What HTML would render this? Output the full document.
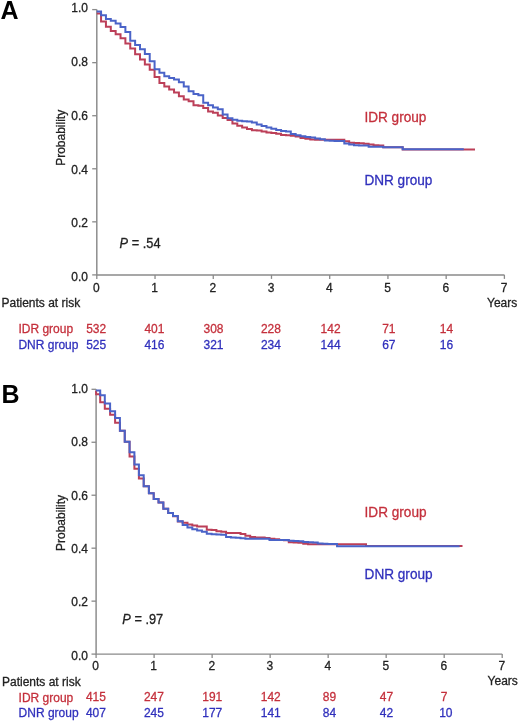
<!DOCTYPE html>
<html><head><meta charset="utf-8"><title>Kaplan-Meier curves</title>
<style>
html,body{margin:0;padding:0;background:#fff;}
body{width:520px;height:722px;overflow:hidden;}
svg{display:block;filter:blur(0.35px);}
text{font-family:"Liberation Sans",sans-serif;fill:#222222;stroke-width:0.28px;}
text.tk,text.lb,text.pv{stroke:#222;}
.tk{font-size:12px;}
.lb{font-size:12px;}
.gl{font-size:13.6px;}
.pv{font-size:13px;}
.pl{font-size:25px;font-weight:bold;fill:#000;}
</style></head><body>
<svg width="520" height="722" viewBox="0 0 520 722">
<text transform="translate(0.50 18.60) scale(1.000 1.000)" class="pl">A</text>
<path d="M96.80 9.60 V274.90 H504.40" fill="none" stroke="#8a8a8a" stroke-width="1.45"/>
<path d="M92.20 9.60 H96.80" stroke="#8a8a8a" stroke-width="1.3"/>
<text transform="translate(87.90 12.20) scale(1.000 1.040)" class="tk" text-anchor="end">1.0</text>
<path d="M92.20 62.66 H96.80" stroke="#8a8a8a" stroke-width="1.3"/>
<text transform="translate(87.90 66.00) scale(1.000 1.040)" class="tk" text-anchor="end">0.8</text>
<path d="M92.20 115.72 H96.80" stroke="#8a8a8a" stroke-width="1.3"/>
<text transform="translate(87.90 119.80) scale(1.000 1.040)" class="tk" text-anchor="end">0.6</text>
<path d="M92.20 168.78 H96.80" stroke="#8a8a8a" stroke-width="1.3"/>
<text transform="translate(87.90 173.60) scale(1.000 1.040)" class="tk" text-anchor="end">0.4</text>
<path d="M92.20 221.84 H96.80" stroke="#8a8a8a" stroke-width="1.3"/>
<text transform="translate(87.90 227.40) scale(1.000 1.040)" class="tk" text-anchor="end">0.2</text>
<path d="M92.20 274.90 H96.80" stroke="#8a8a8a" stroke-width="1.3"/>
<text transform="translate(87.90 281.20) scale(1.000 1.040)" class="tk" text-anchor="end">0.0</text>
<path d="M96.80 274.90 V278.90" stroke="#8a8a8a" stroke-width="1.3"/>
<path d="M155.03 274.90 V278.90" stroke="#8a8a8a" stroke-width="1.3"/>
<path d="M213.26 274.90 V278.90" stroke="#8a8a8a" stroke-width="1.3"/>
<path d="M271.49 274.90 V278.90" stroke="#8a8a8a" stroke-width="1.3"/>
<path d="M329.71 274.90 V278.90" stroke="#8a8a8a" stroke-width="1.3"/>
<path d="M387.94 274.90 V278.90" stroke="#8a8a8a" stroke-width="1.3"/>
<path d="M446.17 274.90 V278.90" stroke="#8a8a8a" stroke-width="1.3"/>
<path d="M504.40 274.90 V278.90" stroke="#8a8a8a" stroke-width="1.3"/>
<text transform="translate(96.40 291.50) scale(1.000 1.040)" class="tk" text-anchor="middle">0</text>
<text transform="translate(154.63 291.50) scale(1.000 1.040)" class="tk" text-anchor="middle">1</text>
<text transform="translate(212.86 291.50) scale(1.000 1.040)" class="tk" text-anchor="middle">2</text>
<text transform="translate(271.09 291.50) scale(1.000 1.040)" class="tk" text-anchor="middle">3</text>
<text transform="translate(329.31 291.50) scale(1.000 1.040)" class="tk" text-anchor="middle">4</text>
<text transform="translate(387.54 291.50) scale(1.000 1.040)" class="tk" text-anchor="middle">5</text>
<text transform="translate(445.77 291.50) scale(1.000 1.040)" class="tk" text-anchor="middle">6</text>
<text transform="translate(504.00 291.50) scale(1.000 1.040)" class="tk" text-anchor="middle">7</text>
<text transform="translate(487.00 306.70) scale(1.000 1.040)" class="tk">Years</text>
<text transform="translate(65.0 165.8) rotate(-90) scale(1 1.040)" class="lb">Probability</text>
<path d="M96.80 13.60 H101.06 V21.50 H105.93 V26.70 H110.80 V30.90 H115.66 V34.20 H120.53 V38.30 H125.39 V43.50 H130.25 V48.50 H135.12 V54.20 H139.99 V59.60 H144.85 V64.40 H149.72 V69.70 H154.58 V77.00 H159.44 V83.00 H164.31 V86.50 H169.18 V89.50 H174.04 V92.50 H178.91 V96.20 H183.77 V99.50 H188.63 V101.20 H193.50 V105.20 H198.37 V105.70 H203.23 V108.10 H208.10 V111.50 H212.96 V112.70 H217.82 V115.50 H222.69 V117.90 H227.56 V120.10 H232.42 V123.50 H237.29 V125.80 H242.15 V127.60 H247.01 V129.00 H251.88 V130.30 H256.75 V130.60 H261.61 V131.50 H266.48 V132.40 H271.34 V133.10 H276.20 V133.70 H281.07 V134.90 H285.94 V135.30 H290.80 V135.80 H295.67 V136.60 H300.53 V138.00 H305.40 V138.70 H310.26 V139.60 H315.12 V139.80 H344.31 V141.20 H349.18 V142.70 H354.05 V143.00 H358.91 V143.30 H363.77 V143.80 H368.64 V144.60 H373.50 V145.20 H378.37 V145.60 H383.24 V147.20 H402.69 V149.50 H475.00" fill="none" stroke="#bc3f58" stroke-width="2.0"/>
<path d="M96.80 11.50 H101.06 V15.20 H105.93 V19.10 H110.80 V20.70 H115.66 V23.50 H120.53 V27.00 H125.39 V32.00 H130.25 V40.80 H135.12 V45.00 H139.99 V49.20 H144.85 V54.00 H149.72 V61.20 H154.58 V69.20 H159.44 V72.70 H164.31 V76.20 H169.18 V78.00 H174.04 V79.50 H178.91 V82.30 H183.77 V86.50 H188.63 V91.30 H193.50 V94.00 H198.37 V95.30 H203.23 V102.80 H208.10 V105.20 H212.96 V107.40 H217.82 V109.20 H222.69 V114.40 H227.56 V118.30 H232.42 V119.80 H237.29 V120.80 H242.15 V121.30 H247.01 V121.60 H251.88 V122.60 H256.75 V124.50 H261.61 V126.00 H266.48 V127.50 H271.34 V128.80 H276.20 V130.00 H281.07 V131.00 H285.94 V131.60 H290.80 V133.90 H295.67 V135.30 H300.53 V136.30 H305.40 V136.90 H310.26 V137.50 H315.12 V138.50 H319.99 V139.30 H324.86 V140.50 H329.72 V140.80 H334.59 V141.00 H344.31 V143.60 H349.18 V144.40 H354.05 V145.20 H358.91 V145.40 H363.77 V145.60 H368.64 V146.70 H383.24 V147.20 H402.69 V149.30 H463.80" fill="none" stroke="#4a63c8" stroke-width="2.0"/>
<text transform="translate(364.40 122.40) scale(1.000 1.040)" class="gl" style="fill:#c4303c;stroke:#c4303c">IDR group</text>
<text transform="translate(364.40 184.90) scale(1.000 1.040)" class="gl" style="fill:#3030bc;stroke:#3030bc">DNR group</text>
<text transform="translate(119.60 247.60) scale(0.985 1.065)" class="pv"><tspan font-style="italic">P</tspan> = .54</text>
<text transform="translate(1.50 307.20) scale(1.000 1.040)" class="lb">Patients at risk</text>
<text transform="translate(18.40 333.40) scale(1.000 1.040)" class="lb" style="fill:#c4303c;stroke:#c4303c">IDR group</text>
<text transform="translate(18.40 348.70) scale(1.000 1.040)" class="lb" style="fill:#3030bc;stroke:#3030bc">DNR group</text>
<text transform="translate(96.20 333.40) scale(1.000 1.040)" class="lb" text-anchor="middle" style="fill:#c4303c;stroke:#c4303c">532</text>
<text transform="translate(96.20 348.70) scale(1.000 1.040)" class="lb" text-anchor="middle" style="fill:#3030bc;stroke:#3030bc">525</text>
<text transform="translate(154.43 333.40) scale(1.000 1.040)" class="lb" text-anchor="middle" style="fill:#c4303c;stroke:#c4303c">401</text>
<text transform="translate(154.43 348.70) scale(1.000 1.040)" class="lb" text-anchor="middle" style="fill:#3030bc;stroke:#3030bc">416</text>
<text transform="translate(213.46 333.40) scale(1.000 1.040)" class="lb" text-anchor="middle" style="fill:#c4303c;stroke:#c4303c">308</text>
<text transform="translate(213.46 348.70) scale(1.000 1.040)" class="lb" text-anchor="middle" style="fill:#3030bc;stroke:#3030bc">321</text>
<text transform="translate(270.89 333.40) scale(1.000 1.040)" class="lb" text-anchor="middle" style="fill:#c4303c;stroke:#c4303c">228</text>
<text transform="translate(270.89 348.70) scale(1.000 1.040)" class="lb" text-anchor="middle" style="fill:#3030bc;stroke:#3030bc">234</text>
<text transform="translate(330.61 333.40) scale(1.000 1.040)" class="lb" text-anchor="middle" style="fill:#c4303c;stroke:#c4303c">142</text>
<text transform="translate(330.61 348.70) scale(1.000 1.040)" class="lb" text-anchor="middle" style="fill:#3030bc;stroke:#3030bc">144</text>
<text transform="translate(388.84 333.40) scale(1.000 1.040)" class="lb" text-anchor="middle" style="fill:#c4303c;stroke:#c4303c">71</text>
<text transform="translate(388.84 348.70) scale(1.000 1.040)" class="lb" text-anchor="middle" style="fill:#3030bc;stroke:#3030bc">67</text>
<text transform="translate(446.37 333.40) scale(1.000 1.040)" class="lb" text-anchor="middle" style="fill:#c4303c;stroke:#c4303c">14</text>
<text transform="translate(446.37 348.70) scale(1.000 1.040)" class="lb" text-anchor="middle" style="fill:#3030bc;stroke:#3030bc">16</text>
<text transform="translate(1.60 403.00) scale(1.000 1.000)" class="pl">B</text>
<path d="M96.10 389.30 V654.10 H502.20" fill="none" stroke="#8a8a8a" stroke-width="1.45"/>
<path d="M91.50 389.30 H96.10" stroke="#8a8a8a" stroke-width="1.3"/>
<text transform="translate(87.90 392.90) scale(1.000 1.040)" class="tk" text-anchor="end">1.0</text>
<path d="M91.50 442.26 H96.10" stroke="#8a8a8a" stroke-width="1.3"/>
<text transform="translate(87.90 446.26) scale(1.000 1.040)" class="tk" text-anchor="end">0.8</text>
<path d="M91.50 495.22 H96.10" stroke="#8a8a8a" stroke-width="1.3"/>
<text transform="translate(87.90 499.62) scale(1.000 1.040)" class="tk" text-anchor="end">0.6</text>
<path d="M91.50 548.18 H96.10" stroke="#8a8a8a" stroke-width="1.3"/>
<text transform="translate(87.90 552.98) scale(1.000 1.040)" class="tk" text-anchor="end">0.4</text>
<path d="M91.50 601.14 H96.10" stroke="#8a8a8a" stroke-width="1.3"/>
<text transform="translate(87.90 606.34) scale(1.000 1.040)" class="tk" text-anchor="end">0.2</text>
<path d="M91.50 654.10 H96.10" stroke="#8a8a8a" stroke-width="1.3"/>
<text transform="translate(87.90 659.70) scale(1.000 1.040)" class="tk" text-anchor="end">0.0</text>
<path d="M96.10 654.10 V658.10" stroke="#8a8a8a" stroke-width="1.3"/>
<path d="M154.11 654.10 V658.10" stroke="#8a8a8a" stroke-width="1.3"/>
<path d="M212.13 654.10 V658.10" stroke="#8a8a8a" stroke-width="1.3"/>
<path d="M270.14 654.10 V658.10" stroke="#8a8a8a" stroke-width="1.3"/>
<path d="M328.16 654.10 V658.10" stroke="#8a8a8a" stroke-width="1.3"/>
<path d="M386.17 654.10 V658.10" stroke="#8a8a8a" stroke-width="1.3"/>
<path d="M444.19 654.10 V658.10" stroke="#8a8a8a" stroke-width="1.3"/>
<path d="M502.20 654.10 V658.10" stroke="#8a8a8a" stroke-width="1.3"/>
<text transform="translate(95.70 669.60) scale(1.000 1.040)" class="tk" text-anchor="middle">0</text>
<text transform="translate(153.71 669.60) scale(1.000 1.040)" class="tk" text-anchor="middle">1</text>
<text transform="translate(211.73 669.60) scale(1.000 1.040)" class="tk" text-anchor="middle">2</text>
<text transform="translate(269.74 669.60) scale(1.000 1.040)" class="tk" text-anchor="middle">3</text>
<text transform="translate(327.76 669.60) scale(1.000 1.040)" class="tk" text-anchor="middle">4</text>
<text transform="translate(385.77 669.60) scale(1.000 1.040)" class="tk" text-anchor="middle">5</text>
<text transform="translate(443.79 669.60) scale(1.000 1.040)" class="tk" text-anchor="middle">6</text>
<text transform="translate(501.80 669.60) scale(1.000 1.040)" class="tk" text-anchor="middle">7</text>
<text transform="translate(487.60 685.10) scale(1.000 1.040)" class="tk">Years</text>
<text transform="translate(65.2 551.0) rotate(-90) scale(1 1.040)" class="lb">Probability</text>
<path d="M96.10 390.8 V394.20 H100.20 V402.30 H104.80 V408.80 H110.10 V414.80 H115.10 V422.70 H119.92 V430.80 H124.75 V441.70 H129.57 V456.50 H134.40 V468.80 H138.90 V478.60 H143.70 V486.30 H148.88 V493.30 H153.70 V499.00 H158.53 V502.50 H163.35 V508.70 H168.18 V512.90 H173.00 V516.30 H177.82 V521.60 H182.65 V522.80 H187.47 V524.50 H192.30 V525.50 H197.12 V526.40 H206.78 V529.80 H211.60 V530.00 H216.43 V531.20 H221.25 V531.70 H226.07 V532.90 H240.55 V534.00 H245.38 V535.80 H250.20 V536.90 H255.02 V537.50 H264.68 V538.00 H269.50 V538.70 H274.32 V539.20 H279.15 V539.90 H283.98 V540.30 H288.80 V542.20 H293.62 V542.50 H298.45 V542.70 H303.27 V543.80 H308.10 V544.20 H366.00 V546.10 H462.50" fill="none" stroke="#bc3f58" stroke-width="2.0"/>
<path d="M96.10 390.40 H100.20 V395.20 H104.80 V403.50 H110.10 V411.20 H115.10 V417.90 H119.92 V430.80 H124.75 V441.70 H129.57 V452.30 H134.40 V464.60 H138.90 V475.20 H143.70 V486.30 H148.88 V493.30 H153.70 V499.00 H158.53 V502.50 H163.35 V508.70 H168.18 V512.90 H173.00 V516.10 H177.82 V521.20 H182.65 V525.00 H187.47 V527.60 H192.30 V529.30 H197.12 V530.50 H201.95 V531.80 H206.78 V533.70 H211.60 V534.20 H216.43 V534.60 H221.25 V534.80 H226.07 V536.90 H230.90 V537.40 H235.73 V537.80 H240.55 V538.20 H245.38 V538.70 H269.50 V539.90 H288.80 V540.80 H293.62 V541.00 H298.45 V541.20 H303.27 V541.90 H308.10 V542.20 H312.93 V542.40 H317.75 V543.50 H322.57 V543.80 H327.40 V543.90 H332.23 V544.00 H337.05 V546.30 H459.60" fill="none" stroke="#4a63c8" stroke-width="2.0"/>
<text transform="translate(364.60 517.00) scale(1.000 1.040)" class="gl" style="fill:#c4303c;stroke:#c4303c">IDR group</text>
<text transform="translate(364.60 578.60) scale(1.000 1.040)" class="gl" style="fill:#3030bc;stroke:#3030bc">DNR group</text>
<text transform="translate(122.30 624.00) scale(0.985 1.065)" class="pv"><tspan font-style="italic">P</tspan> = .97</text>
<text transform="translate(2.00 686.10) scale(1.000 1.040)" class="lb">Patients at risk</text>
<text transform="translate(18.60 701.80) scale(1.000 1.040)" class="lb" style="fill:#c4303c;stroke:#c4303c">IDR group</text>
<text transform="translate(18.60 716.80) scale(1.000 1.040)" class="lb" style="fill:#3030bc;stroke:#3030bc">DNR group</text>
<text transform="translate(95.90 701.00) scale(1.000 1.040)" class="lb" text-anchor="middle" style="fill:#c4303c;stroke:#c4303c">415</text>
<text transform="translate(95.90 716.80) scale(1.000 1.040)" class="lb" text-anchor="middle" style="fill:#3030bc;stroke:#3030bc">407</text>
<text transform="translate(153.91 701.00) scale(1.000 1.040)" class="lb" text-anchor="middle" style="fill:#c4303c;stroke:#c4303c">247</text>
<text transform="translate(153.91 716.80) scale(1.000 1.040)" class="lb" text-anchor="middle" style="fill:#3030bc;stroke:#3030bc">245</text>
<text transform="translate(212.23 701.00) scale(1.000 1.040)" class="lb" text-anchor="middle" style="fill:#c4303c;stroke:#c4303c">191</text>
<text transform="translate(212.23 716.80) scale(1.000 1.040)" class="lb" text-anchor="middle" style="fill:#3030bc;stroke:#3030bc">177</text>
<text transform="translate(270.74 701.00) scale(1.000 1.040)" class="lb" text-anchor="middle" style="fill:#c4303c;stroke:#c4303c">142</text>
<text transform="translate(270.74 716.80) scale(1.000 1.040)" class="lb" text-anchor="middle" style="fill:#3030bc;stroke:#3030bc">141</text>
<text transform="translate(329.46 701.00) scale(1.000 1.040)" class="lb" text-anchor="middle" style="fill:#c4303c;stroke:#c4303c">89</text>
<text transform="translate(329.46 716.80) scale(1.000 1.040)" class="lb" text-anchor="middle" style="fill:#3030bc;stroke:#3030bc">84</text>
<text transform="translate(386.47 701.00) scale(1.000 1.040)" class="lb" text-anchor="middle" style="fill:#c4303c;stroke:#c4303c">47</text>
<text transform="translate(386.47 716.80) scale(1.000 1.040)" class="lb" text-anchor="middle" style="fill:#3030bc;stroke:#3030bc">42</text>
<text transform="translate(444.19 701.00) scale(1.000 1.040)" class="lb" text-anchor="middle" style="fill:#c4303c;stroke:#c4303c">7</text>
<text transform="translate(445.79 716.80) scale(1.000 1.040)" class="lb" text-anchor="middle" style="fill:#3030bc;stroke:#3030bc">10</text>
</svg>
</body></html>
